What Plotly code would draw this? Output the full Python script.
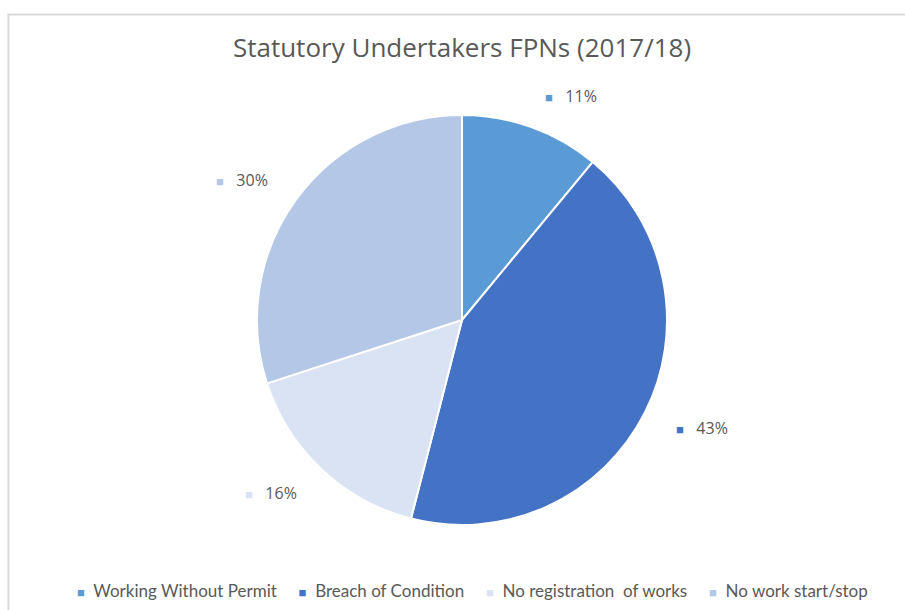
import math
import plotly.graph_objects as go

categories = ["Working Without Permit", "Breach of Condition", "No registration  of works", "No work start/stop"]
values = [11, 43, 16, 30]
colors = ["#5B9BD5", "#4472C4", "#DAE3F3", "#B4C7E7"]
title_text = "Statutory Undertakers FPNs (2017/18)"

W, H = 905, 610
cx, cy, R = 462, 320, 205  # pixel centre / radius of pie
TEXT = "#595959"

fig = go.Figure(go.Pie(
    labels=categories, values=values, sort=False, direction="clockwise", rotation=0,
    marker=dict(colors=colors, line=dict(color="white", width=2)),
    textinfo="none", hoverinfo="label+percent", showlegend=False,
    domain=dict(x=[(cx - R) / W, (cx + R) / W], y=[(H - cy - R) / H, (H - cy + R) / H]),
))

sq = "<span style='color:{c};font-size:13px'>■</span>"

# outside data labels computed from slice mid-angles
total = sum(values)
cum = 0
annotations = []
for v, c in zip(values, colors):
    mid = (cum + v / 2) / total * 2 * math.pi
    cum += v
    r = R * 1.16
    px = cx + r * math.sin(mid)
    py = cy - r * math.cos(mid)
    annotations.append(dict(
        x=px / W, y=1 - py / H, xref="paper", yref="paper",
        text=sq.format(c=c) + f"&nbsp;&nbsp; {round(v / total * 100)}%",
        showarrow=False, xanchor="left" if math.sin(mid) > 0 else "right", yanchor="middle",
        font=dict(family="Open Sans", size=16, color=TEXT),
    ))

# legend row (as text, built from categories/colors)
legend_text = "&nbsp;&nbsp;&nbsp;&nbsp;&nbsp;".join(
    sq.format(c=c) + "&nbsp; " + lab.replace("  ", " &nbsp;") for lab, c in zip(categories, colors)
)
annotations.append(dict(
    x=472 / W, y=1 - 590 / H, xref="paper", yref="paper", text=legend_text, showarrow=False,
    xanchor="center", yanchor="middle", font=dict(family="Lato", size=17, color=TEXT),
))

fig.update_layout(
    width=W, height=H, margin=dict(l=0, r=0, t=0, b=0),
    paper_bgcolor="white", plot_bgcolor="white", showlegend=False,
    title=dict(text=title_text, x=462 / W, xanchor="center", y=1 - 48 / H, yanchor="middle",
               font=dict(family="Open Sans", size=26, color=TEXT)),
    annotations=annotations,
    shapes=[dict(type="rect", xref="paper", yref="paper", x0=8.5 / W, x1=1.02, y0=-0.02, y1=1 - 14.5 / H,
                 line=dict(color="#D9D9D9", width=2), fillcolor="rgba(0,0,0,0)", layer="below")],
)

fig.write_html("out.html", config={"displayModeBar": False},
               post_script="document.body.style.margin='0';document.body.style.overflow='hidden';")
